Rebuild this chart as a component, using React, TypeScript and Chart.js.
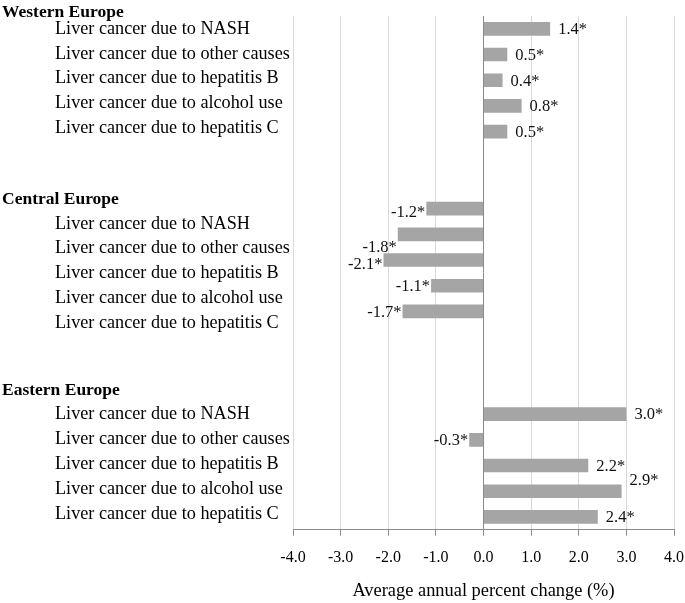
import React, { useEffect, useRef } from 'react';
import { Chart, registerables } from 'chart.js';

Chart.register(...registerables);

const groupNames = ['Western Europe', 'Central Europe', 'Eastern Europe'];
const causes = [
  'Liver cancer due to NASH',
  'Liver cancer due to other causes',
  'Liver cancer due to hepatitis B',
  'Liver cancer due to alcohol use',
  'Liver cancer due to hepatitis C',
];
const westernValues = [1.4, 0.5, 0.4, 0.8, 0.5];
const centralValues = [-1.2, -1.8, -2.1, -1.1, -1.7];
const easternValues = [3.0, -0.3, 2.2, 2.9, 2.4];
const groupValues = [westernValues, centralValues, easternValues];
const blankRowsAfter = [2, 3, 0];
const xMin = -4;
const xMax = 4;
const xStep = 1;
const xTitle = 'Average annual percent change (%)';

const FONT = "'Liberation Serif', 'Times New Roman', serif";

// build rows (with blank spacer rows) from the arrays above
const rowLabels: string[] = [];
const rowValues: (number | null)[] = [];
const groupStartRow: number[] = [];
groupValues.forEach((vals, g) => {
  groupStartRow.push(rowLabels.length);
  vals.forEach((v, i) => {
    rowLabels.push(groupNames[g] + ' – ' + causes[i]);
    rowValues.push(v);
  });
  for (let k = 0; k < blankRowsAfter[g]; k++) {
    rowLabels.push('');
    rowValues.push(null);
  }
});

// layout tweaks of the text labels (in row units)
const labelShift = [0, 0.59, 0.02];
const labelStep = 0.97;
const headerGap = [0.65, 0.93, 0.93];
const valueLabelNudge: Record<string, number> = { '1-0': 4, '1-1': 13, '1-2': 5, '2-3': -11 };

const sideLabelsPlugin = {
  id: 'sideLabels',
  afterDraw(chart: any) {
    const ctx = chart.ctx;
    const y = chart.scales.y;
    ctx.save();
    ctx.fillStyle = '#000';
    ctx.textBaseline = 'middle';
    ctx.textAlign = 'left';
    groupNames.forEach((name, g) => {
      const start = groupStartRow[g] + labelShift[g];
      ctx.font = `bold 17.5px ${FONT}`;
      ctx.fillText(name, 2, y.getPixelForValue(start - headerGap[g]));
      ctx.font = `18.2px ${FONT}`;
      causes.forEach((c, i) => {
        ctx.fillText(c, 55, y.getPixelForValue(start + i * labelStep));
      });
    });
    ctx.restore();
  },
};

const valueLabelsPlugin = {
  id: 'valueLabels',
  afterDatasetsDraw(chart: any) {
    const ctx = chart.ctx;
    const meta = chart.getDatasetMeta(0);
    ctx.save();
    ctx.fillStyle = '#111';
    ctx.font = `16.5px ${FONT}`;
    ctx.textBaseline = 'middle';
    meta.data.forEach((el: any, idx: number) => {
      const v = rowValues[idx];
      if (v === null || v === undefined) return;
      let g = 0;
      for (let k = 0; k < groupStartRow.length; k++) if (idx >= groupStartRow[k]) g = k;
      const key = `${g}-${idx - groupStartRow[g]}`;
      const dy = valueLabelNudge[key] || 1;
      const txt = v.toFixed(1) + '*';
      if (v >= 0) {
        ctx.textAlign = 'left';
        ctx.fillText(txt, el.x + 8, el.y + dy);
      } else {
        ctx.textAlign = 'right';
        ctx.fillText(txt, el.x - 1, el.y + dy);
      }
    });
    ctx.restore();
  },
};

export default function App() {
  const ref = useRef<HTMLCanvasElement>(null);
  useEffect(() => {
    if (!ref.current) return;
    const chart = new Chart(ref.current, {
      type: 'bar',
      data: {
        labels: rowLabels,
        datasets: [
          {
            data: rowValues as any,
            backgroundColor: '#a5a5a5',
            borderWidth: 0,
            barPercentage: 0.53,
            categoryPercentage: 1,
          },
        ],
      },
      options: {
        indexAxis: 'y',
        animation: false,
        responsive: false,
        layout: { padding: { left: 293, right: 0, top: 16, bottom: 1 } },
        plugins: { legend: { display: false }, tooltip: { enabled: false } },
        scales: {
          x: {
            type: 'linear',
            min: xMin,
            max: xMax,
            afterFit: (s: any) => {
              s.paddingRight = 11;
              s.paddingLeft = 0;
            },
            ticks: {
              stepSize: xStep,
              callback: (v: any) => Number(v).toFixed(1),
              font: { family: FONT, size: 16 },
              color: '#000',
              padding: 12,
            },
            grid: {
              color: (c: any) => (c.tick && c.tick.value === 0 ? '#8a8a8a' : '#d9d9d9'),
              tickColor: '#8a8a8a',
              tickLength: 6,
              lineWidth: 1,
            },
            border: { color: '#8a8a8a', display: true },
            title: {
              display: true,
              text: xTitle,
              font: { family: FONT, size: 18.4 },
              color: '#000',
              padding: { top: 1, bottom: 0 },
            },
          },
          y: {
            type: 'category',
            display: false,
            offset: true,
          },
        },
      },
      plugins: [sideLabelsPlugin, valueLabelsPlugin],
    });
    return () => chart.destroy();
  }, []);
  return (
    <div style={{ position: 'fixed', left: 0, top: 0, width: 685, height: 603, background: '#fff' }}>
      <canvas ref={ref} width={685} height={603} />
    </div>
  );
}
